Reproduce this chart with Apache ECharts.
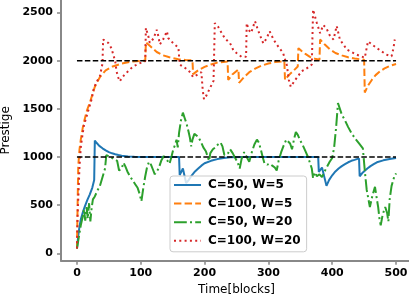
<!DOCTYPE html>
<html>
<head>
<meta charset="utf-8">
<script src="https://cdn.jsdelivr.net/npm/echarts@6/dist/echarts.min.js"></script>
<style>
  html, body { margin: 0; padding: 0; background: #fff; }
  #chart { width: 409px; height: 300px; }
</style>
</head>
<body>
<div id="chart"></div>
<script>
// tick values
var xTicks = [0, 100, 200, 300, 400, 500];
var yTicks = [0, 500, 1000, 1500, 2000, 2500];

// reference levels
var level1 = [[0, 1000], [500, 1000]];
var level2 = [[0, 2000], [500, 2000]];

// C=50, W=5  [time, prestige]
var c50w5 = [
  [0, 50], [2, 180], [4, 280], [6, 350], [9, 420], [12, 480], [16, 550], [20, 610], [24, 680], [27, 760],
  [28, 1170], [31, 1145], [35, 1115], [40, 1090], [45, 1068], [50, 1050], [55, 1038], [60, 1028], [65, 1020],
  [70, 1013], [80, 1006], [90, 1003], [100, 1001], [160, 1000], [161, 812], [166, 880], [171, 730], [175, 760],
  [180, 810], [185, 850], [190, 880], [195, 910], [200, 935], [210, 960], [220, 978], [230, 990], [240, 996],
  [260, 1000], [378, 1000], [379, 845], [384, 890], [391, 700], [395, 760], [400, 810], [405, 850], [410, 880],
  [415, 905], [420, 925], [425, 945], [430, 960], [435, 970], [442, 985], [443, 800], [448, 840], [455, 880],
  [460, 905], [465, 925], [470, 945], [480, 965], [490, 980], [500, 990]
];

// C=100, W=5
var c100w5 = [
  [0, 50], [1, 500], [2, 900], [4, 1080], [6, 1180], [9, 1300], [12, 1390], [16, 1490], [20, 1560], [28, 1730],
  [36, 1830], [45, 1900], [56, 1940], [70, 1970], [85, 1990], [107, 2000], [108, 2190], [115, 2150], [125, 2090],
  [135, 2055], [145, 2035], [159, 2015], [170, 2008], [181, 2003], [182, 1860], [190, 1900], [200, 1935],
  [210, 1960], [220, 1980], [236, 1992], [237, 1800], [244, 1860], [253, 1910], [254, 1770], [262, 1830],
  [270, 1880], [280, 1920], [290, 1950], [300, 1970], [310, 1985], [325, 1995], [326, 1800], [332, 1850],
  [340, 1900], [346, 1940], [347, 2130], [352, 2100], [358, 2070], [365, 2040], [373, 2020], [380, 2010],
  [381, 2220], [388, 2170], [396, 2120], [405, 2080], [415, 2055], [425, 2035], [435, 2022], [450, 2010],
  [451, 1670], [456, 1740], [462, 1800], [468, 1850], [475, 1890], [482, 1920], [490, 1945], [500, 1965]
];

// C=50, W=20
var c50w20 = [
  [0, 50], [3, 170], [6, 290], [9, 380], [11, 460], [13, 340], [15, 480], [17, 360], [19, 520], [21, 330],
  [23, 470], [25, 560], [28, 590], [32, 650], [36, 700], [40, 790], [44, 880], [46, 1020], [52, 1000], [58, 980],
  [63, 960], [66, 860], [70, 880], [73, 940], [76, 900], [79, 850], [83, 800], [87, 760], [91, 720], [95, 680],
  [98, 620], [101, 540], [104, 680], [107, 800], [110, 900], [113, 950], [116, 920], [119, 870], [122, 820],
  [125, 800], [128, 880], [132, 960], [136, 1010], [139, 1020], [142, 960], [145, 930], [148, 1000], [151, 1080],
  [154, 1130], [156, 1180], [158, 1100], [160, 1250], [163, 1380], [166, 1460], [169, 1400], [172, 1340],
  [175, 1260], [177, 1200], [179, 1110], [181, 1180], [184, 1240], [187, 1260], [190, 1210], [194, 1160],
  [198, 1100], [202, 1060], [205, 1000], [207, 960], [209, 1040], [213, 1080], [217, 1100], [221, 1130],
  [225, 1150], [228, 1110], [231, 1020], [234, 1000], [237, 1040], [240, 1080], [244, 1040], [248, 990],
  [252, 940], [255, 880], [258, 980], [262, 1050], [266, 1000], [270, 950], [274, 1050], [278, 1130],
  [282, 1180], [285, 1150], [288, 1080], [291, 1000], [294, 930], [298, 920], [302, 930], [306, 910],
  [310, 890], [313, 860], [316, 960], [320, 1050], [324, 1120], [328, 1180], [331, 1200], [334, 1140],
  [337, 1080], [340, 1180], [343, 1260], [346, 1230], [350, 1170], [354, 1120], [358, 1060], [362, 1000],
  [365, 940], [368, 880], [370, 780], [373, 840], [376, 800], [380, 820], [384, 790], [388, 850], [392, 900],
  [396, 950], [400, 990], [403, 1100], [406, 1300], [409, 1560], [412, 1500], [415, 1440], [420, 1380],
  [425, 1310], [430, 1250], [436, 1190], [442, 1140], [448, 1090], [451, 860], [454, 660], [459, 480],
  [463, 600], [467, 690], [470, 560], [472, 480], [474, 360], [476, 290], [479, 400], [483, 480], [486, 420],
  [488, 330], [490, 560], [493, 700], [497, 790], [500, 830]
];

// C=100, W=20
var c100w20 = [
  [0, 50], [1, 400], [2, 560], [4, 900], [6, 1100], [8, 1200], [11, 1330], [15, 1420], [19, 1510], [23, 1600],
  [26, 1700], [30, 1770], [36, 1840], [40, 1970], [41, 2220], [44, 2210], [49, 2185], [54, 2130], [60, 1990],
  [62, 1890], [65, 1820], [67, 1785], [72, 1835], [80, 1890], [88, 1940], [99, 1975], [107, 1995], [108, 2340],
  [112, 2250], [114, 2185], [120, 2230], [125, 2320], [127, 2270], [130, 2170], [135, 2220], [141, 2305],
  [143, 2235], [151, 2180], [159, 2135], [161, 1960], [168, 1930], [175, 1900], [182, 1830], [190, 1860],
  [195, 1880], [197, 1700], [199, 1600], [203, 1640], [208, 1710], [214, 1790], [216, 2390], [221, 2355],
  [227, 2285], [232, 2230], [240, 2180], [245, 2110], [250, 2080], [258, 2040], [265, 2040], [266, 2390],
  [269, 2320], [273, 2290], [279, 2410], [283, 2330], [287, 2260], [292, 2180], [297, 2230], [302, 2305],
  [308, 2220], [315, 2150], [323, 2080], [329, 1950], [332, 1800], [335, 1730], [342, 1800], [352, 1890],
  [360, 1920], [368, 1960], [370, 2530], [376, 2390], [381, 2285], [386, 2370], [391, 2335], [397, 2250],
  [402, 2220], [407, 2360], [412, 2220], [423, 2115], [438, 2063], [451, 2030], [456, 2200], [470, 2130],
  [485, 2063], [493, 2045], [496, 2130], [498, 2220]
];

var chart = echarts.init(document.getElementById('chart'), null, { renderer: 'canvas' });

var font = 'DejaVu Sans';

var option = {
  backgroundColor: '#fff',
  animation: false,
  grid: { left: 61, right: -3, top: 0, bottom: 39.3, containLabel: false, outerBoundsMode: 'none' },
  legend: {
    data: ['C=50, W=5', 'C=100, W=5', 'C=50, W=20', 'C=100, W=20'],
    orient: 'vertical',
    left: 170,
    top: 176,
    itemWidth: 27,
    itemHeight: 14,
    itemGap: 6.6,
    padding: [3, 6, 5, 3],
    backgroundColor: 'rgba(255,255,255,0.8)',
    borderColor: '#ccc',
    borderWidth: 1,
    borderRadius: 3,
    itemStyle: { opacity: 0 },
    textStyle: { fontFamily: font, fontWeight: 'bold', fontSize: 12, color: '#000', padding: [0, 0, 0, 2] }
  },
  xAxis: {
    type: 'value',
    min: -25,
    max: 525,
    name: 'Time[blocks]',
    nameLocation: 'middle',
    nameGap: 20,
    nameTextStyle: { fontFamily: font, fontSize: 12, color: '#000' },
    axisLine: { show: true, onZero: false, lineStyle: { color: '#888', width: 2 } },
    axisTick: { show: true, length: 4, customValues: xTicks, lineStyle: { color: '#888', width: 1.5 } },
    axisLabel: {
      customValues: xTicks, margin: 7, fontFamily: font, fontWeight: 'bold', fontSize: 11, color: '#000',
      formatter: function (v) { return String(v); }
    },
    splitLine: { show: false }
  },
  yAxis: {
    type: 'value',
    min: -77,
    max: 2630,
    name: 'Prestige',
    nameLocation: 'middle',
    nameGap: 46,
    nameTextStyle: { fontFamily: font, fontSize: 12, color: '#000' },
    axisLine: { show: true, onZero: false, lineStyle: { color: '#888', width: 2 } },
    axisTick: { show: true, length: 4, customValues: yTicks, lineStyle: { color: '#888', width: 1.5 } },
    axisLabel: {
      customValues: yTicks, margin: 8, fontFamily: font, fontWeight: 'bold', fontSize: 11, color: '#000',
      formatter: function (v) { return String(v); }
    },
    splitLine: { show: false }
  },
  series: [
    {
      name: 'C=50, W=5', type: 'line', data: c50w5, showSymbol: false, symbol: 'none',
      lineStyle: { color: '#1f77b4', width: 2, type: 'solid' }, itemStyle: { color: '#1f77b4' }
    },
    {
      name: 'C=100, W=5', type: 'line', data: c100w5, showSymbol: false, symbol: 'none',
      lineStyle: { color: '#ff7f0e', width: 2, type: [7.4, 3.2] }, itemStyle: { color: '#ff7f0e' }
    },
    {
      name: 'C=50, W=20', type: 'line', data: c50w20, showSymbol: false, symbol: 'none',
      lineStyle: { color: '#2ca02c', width: 2, type: [12.8, 3.2, 2, 3.2] }, itemStyle: { color: '#2ca02c' }
    },
    {
      name: 'C=100, W=20', type: 'line', data: c100w20, showSymbol: false, symbol: 'none',
      lineStyle: { color: '#d62728', width: 2, type: [2, 3.3] }, itemStyle: { color: '#d62728' }
    },
    {
      name: 'level1', type: 'line', data: level1, showSymbol: false, symbol: 'none', silent: true,
      lineStyle: { color: '#000', width: 1.5, type: [5.5, 2.4] }
    },
    {
      name: 'level2', type: 'line', data: level2, showSymbol: false, symbol: 'none', silent: true,
      lineStyle: { color: '#000', width: 1.5, type: [5.5, 2.4] }
    }
  ]
};

chart.setOption(option);
</script>
</body>
</html>
